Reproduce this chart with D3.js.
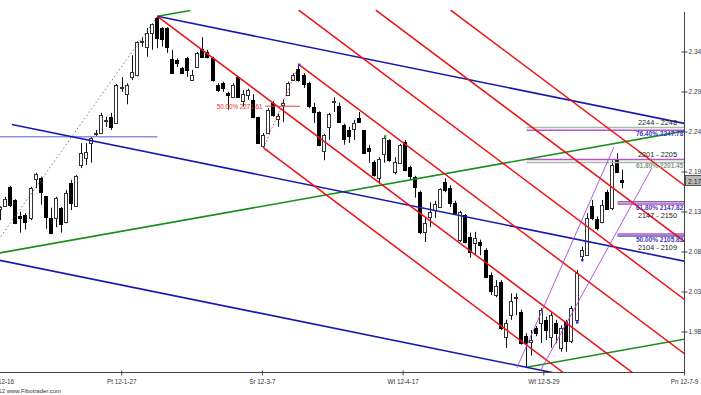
<!DOCTYPE html>
<html>
<head>
<meta charset="utf-8">
<script src="https://cdn.jsdelivr.net/npm/d3@7"></script>
<style>
  body { margin: 0; background: #fff; }
  svg { display: block; font-family: "Liberation Sans", Arial, sans-serif; }
</style>
</head>
<body>
<script>
// daily candles (bar 0 = left edge, bar 123 = last session)
const open = [2.140,2.143,2.168,2.151,2.130,2.132,2.127,2.178,2.179,2.156,
  2.128,2.128,2.141,2.123,2.173,2.143,2.195,2.205,2.224,2.236,
  2.237,2.253,2.258,2.250,2.295,2.287,2.310,2.312,2.354,2.348,
  2.366,2.385,2.372,2.372,2.332,2.331,2.321,2.333,2.305,2.322,
  2.345,2.341,2.333,2.299,2.301,2.288,2.283,2.309,2.278,2.286,
  2.280,2.258,2.221,2.238,2.276,2.255,2.273,2.286,2.305,2.319,
  2.312,2.301,2.271,2.264,2.215,2.245,2.277,2.272,2.247,2.241,
  2.242,2.256,2.241,2.218,2.200,2.179,2.211,2.228,2.187,2.199,
  2.226,2.193,2.181,2.161,2.109,2.129,2.138,2.142,2.174,2.166,
  2.147,2.100,2.132,2.103,2.096,2.097,2.087,2.055,2.029,2.046,
  1.975,2.003,2.025,2.007,1.976,1.969,1.987,1.993,1.997,1.975,
  1.993,1.961,1.994,1.969,1.997,2.079,2.080,2.143,2.127,2.123,
  2.161,2.141,2.202,2.177];
const high = [2.143,2.155,2.169,2.152,2.136,2.134,2.168,2.186,2.181,2.156,
  2.141,2.155,2.142,2.164,2.177,2.183,2.224,2.224,2.232,2.241,
  2.263,2.258,2.263,2.300,2.309,2.301,2.337,2.355,2.360,2.372,
  2.378,2.387,2.373,2.373,2.344,2.333,2.322,2.335,2.318,2.341,
  2.360,2.344,2.335,2.301,2.303,2.290,2.301,2.310,2.292,2.294,
  2.287,2.258,2.237,2.269,2.278,2.262,2.280,2.303,2.314,2.325,
  2.314,2.303,2.276,2.265,2.236,2.263,2.283,2.276,2.249,2.245,
  2.254,2.264,2.241,2.222,2.202,2.206,2.233,2.229,2.206,2.223,
  2.228,2.195,2.182,2.163,2.128,2.148,2.150,2.166,2.179,2.170,
  2.150,2.137,2.133,2.109,2.110,2.100,2.089,2.058,2.048,2.048,
  1.997,2.031,2.031,2.010,1.980,1.984,1.989,2.012,2.001,2.006,
  1.997,1.990,1.997,2.015,2.061,2.091,2.134,2.151,2.130,2.151,
  2.164,2.202,2.211,2.190];
const low = [2.125,2.142,2.142,2.120,2.109,2.113,2.125,2.166,2.145,2.114,
  2.107,2.116,2.109,2.121,2.138,2.142,2.192,2.196,2.199,2.232,
  2.236,2.245,2.241,2.249,2.290,2.274,2.305,2.310,2.348,2.335,
  2.344,2.346,2.348,2.340,2.313,2.322,2.313,2.309,2.304,2.322,
  2.335,2.333,2.303,2.290,2.290,2.267,2.283,2.282,2.271,2.280,
  2.256,2.223,2.218,2.237,2.258,2.245,2.251,2.286,2.304,2.303,
  2.295,2.269,2.250,2.220,2.202,2.228,2.264,2.251,2.222,2.224,
  2.228,2.250,2.210,2.199,2.181,2.173,2.199,2.200,2.184,2.197,
  2.188,2.177,2.154,2.107,2.097,2.116,2.128,2.142,2.161,2.142,
  2.132,2.097,2.095,2.077,2.080,2.080,2.051,2.029,2.026,1.984,
  1.961,1.997,2.003,1.965,1.936,1.951,1.976,1.967,1.971,1.961,
  1.967,1.956,1.956,1.967,1.994,2.074,2.079,2.125,2.112,2.121,
  2.138,2.138,2.186,2.166];
const close = [2.142,2.152,2.145,2.121,2.128,2.123,2.166,2.184,2.161,2.129,
  2.109,2.154,2.121,2.160,2.147,2.182,2.211,2.213,2.231,2.237,
  2.260,2.254,2.245,2.299,2.296,2.299,2.316,2.354,2.355,2.366,
  2.377,2.359,2.358,2.348,2.314,2.327,2.314,2.318,2.312,2.340,
  2.335,2.335,2.305,2.292,2.294,2.285,2.299,2.283,2.287,2.292,
  2.258,2.224,2.235,2.267,2.260,2.259,2.276,2.301,2.312,2.305,
  2.301,2.271,2.264,2.222,2.235,2.262,2.278,2.251,2.229,2.233,
  2.250,2.251,2.211,2.214,2.183,2.204,2.231,2.202,2.200,2.222,
  2.190,2.181,2.168,2.110,2.121,2.136,2.146,2.165,2.164,2.147,
  2.134,2.136,2.097,2.084,2.102,2.093,2.052,2.035,2.041,1.987,
  1.993,2.021,2.026,1.967,1.967,1.971,1.981,2.010,1.984,2.003,
  1.980,1.987,1.969,2.012,2.057,2.087,2.128,2.128,2.116,2.145,
  2.139,2.196,2.187,2.175];

// axes
const priceTicks = [1.982, 2.0334, 2.0848, 2.1362, 2.1876, 2.239, 2.2904, 2.3418];
const priceTickLabels = ["1.98", "2.03", "2.08", "2.13", "2.19", "2.24", "2.29", "2.34"];
const dateTicks = [-4.0, 23.84, 51.67, 79.5, 107.34, 135.17];
const dateLabels = ["Pt 11-12-16", "Pt 12-1-27", "Śr 12-3-7", "Wt 12-4-17", "Wt 12-5-29", "Pn 12-7-9"];

// red parallel channel lines: anchor bar, anchor price
const redBars = [31, 59, 52, 58.95, 74.2, 89.0];
const redPrices = [2.387, 2.325, 2.218, 2.395, 2.395, 2.395];
const redSlope = -0.004872;

// blue fan lines
const blueBars = [31, 2.2, -1];
const bluePrices = [2.387, 2.248, 2.0746];
const blueSlope = -0.00132;

// green lines
const greenBars = [31, -1, 104];
const greenEnds = [37.5, 140, 140];
const greenPrices = [2.387, 2.082, 1.936];
const greenSlope = 0.001156;

// purple up channel [bar0, price0, bar1, price1]
const purpleLines = [[102.1, 1.935, 121.3, 2.219], [106.7, 1.931, 128.8, 2.192]];

// fibonacci cluster lines on the right
const fibLevels = [2.2442, 2.2406, 2.2030, 2.1992, 2.1488, 2.1459, 2.1073, 2.1047];
const fibStarts = [104, 104, 104, 104, 122, 122, 122, 122];
const fibColors = ["#a3bfa3", "#b456c8", "#b456c8", "#a3bfa3", "#7a6aa8", "#c24ac4", "#c24ac4", "#5a5ab8"];
const zoneTexts = ["2244 - 2248", "2201 - 2205", "2147 - 2150", "2104 - 2109"];
const fibTexts = ["76.40% 2247.78", "61.80% 2201.45", "61.80% 2147.82", "50.00% 2105.83"];
const fibTextColors = ["#3a3ad0", "#7f9a7f", "#4a3ac0", "#4a3ac0"];

// other marks
const retraceText = "50.00% 2271.61";
const dottedStart = [0, 2.104];
const lavenderLevel = 2.2323;
const dotBars = [59, 76, 114, 115];
const dotColors = ["#3030ff", "#20a020", "#3030ff", "#3030ff"];

const W = 701, H = 395;
const plot = {left: 0, right: 684, top: 8, bottom: 372};

const svg = d3.select("body").append("svg").attr("width", W).attr("height", H);
svg.append("rect").attr("width", W).attr("height", H).attr("fill", "#fff");

svg.append("defs").append("clipPath").attr("id", "plotClip")
  .append("rect")
  .attr("x", plot.left).attr("y", plot.top)
  .attr("width", plot.right - plot.left).attr("height", plot.bottom - plot.top);

const x = d3.scaleLinear().domain([0, 123]).range([0.7, 622.5]);
const y = d3.scaleLinear().domain([priceTicks[0], priceTicks[7]]).range([331.5, 51.5]);
const line = d3.line().x(d => x(d[0])).y(d => y(d[1]));
function seg(i0, p0, slope, i1) { return [[i0, p0], [i1, p0 + slope * (i1 - i0)]]; }

const bars = d3.range(open.length).map(i => ({i: i, o: open[i], h: high[i], l: low[i], c: close[i]}));
const g = svg.append("g").attr("clip-path", "url(#plotClip)");

// candles
const col = d => Math.floor(x(d.i));
const candle = g.selectAll(".candle").data(bars).enter().append("g").attr("class", "candle");
candle.append("line")
  .attr("x1", d => col(d) + 0.5).attr("x2", d => col(d) + 0.5)
  .attr("y1", d => y(d.h)).attr("y2", d => y(d.l))
  .attr("stroke", "#111").attr("stroke-width", 1);
candle.append("rect")
  .attr("x", d => col(d) - 1.5)
  .attr("y", d => Math.round(y(Math.max(d.o, d.c))) + 0.5)
  .attr("width", 3)
  .attr("height", d => Math.max(1, Math.round(Math.abs(y(d.o) - y(d.c)))))
  .attr("fill", d => d.c >= d.o ? "#fff" : "#000")
  .attr("stroke", d => d.c >= d.o ? "#333" : "#000")
  .attr("stroke-width", 1);

// lavender horizontal level
g.append("path").attr("d", line([[-2, lavenderLevel], [31, lavenderLevel]]))
  .attr("stroke", "#8f8fe0").attr("stroke-width", 1.6).attr("fill", "none");

// dotted swing line into the top
g.append("path").attr("d", line([dottedStart, [31, high[31]]]))
  .attr("stroke", "#555").attr("stroke-width", 0.8).attr("stroke-dasharray", "1.5,2.5").attr("fill", "none");

// fib cluster lines
fibLevels.forEach((lv, k) => {
  g.append("path").attr("d", line([[fibStarts[k], lv], [140, lv]]))
    .attr("stroke", fibColors[k]).attr("stroke-width", 1.6).attr("fill", "none");
});

// green lines
greenBars.forEach((b, k) => {
  g.append("path").attr("d", line(seg(b, greenPrices[k], greenSlope, greenEnds[k])))
    .attr("stroke", "#17901d").attr("stroke-width", 1.6).attr("fill", "none");
});

// blue lines
blueBars.forEach((b, k) => {
  g.append("path").attr("d", line(seg(b, bluePrices[k], blueSlope, 140)))
    .attr("stroke", "#1818b0").attr("stroke-width", 1.6).attr("fill", "none");
});

// red channel
redBars.forEach((b, k) => {
  g.append("path").attr("d", line(seg(b, redPrices[k], redSlope, 140)))
    .attr("stroke", "#ee1010").attr("stroke-width", 1.5).attr("fill", "none");
});

// purple channel
purpleLines.forEach(p => {
  g.append("path").attr("d", line([[p[0], p[1]], [p[2], p[3]]]))
    .attr("stroke", "#a84ad8").attr("stroke-width", 0.9).attr("fill", "none");
});

// 50% retracement of the Mar swing
const mid = (low[52] + high[59]) / 2;
g.append("path").attr("d", line([[52, low[52]], [59, high[59]]]))
  .attr("stroke", "#e03030").attr("stroke-width", 0.8).attr("stroke-dasharray", "1.5,2").attr("fill", "none");
g.append("path").attr("d", line([[52.3, mid], [59.2, mid]]))
  .attr("stroke", "#e84040").attr("stroke-width", 1).attr("fill", "none");
svg.append("text")
  .attr("x", x(52) - 1).attr("y", y(mid) + 3)
  .attr("text-anchor", "end").attr("font-size", 6.3).attr("fill", "#e03030")
  .text(retraceText);

// pivot dots
dotBars.forEach((b, k) => {
  const p = k < 2 ? high[b] : low[b];
  g.append("rect").attr("x", x(b) - 1).attr("y", y(p) - 1).attr("width", 2.5).attr("height", 2.5)
    .attr("fill", dotColors[k]);
});

// fib cluster labels
zoneTexts.forEach((t, k) => {
  const top = y(fibLevels[2 * k]), bot = y(fibLevels[2 * k + 1]);
  const fibY = bot + 6;
  const zoneY = k < 2 ? top - 2.5 : fibY + 8;
  svg.append("text").attr("x", 638).attr("y", zoneY)
    .attr("font-size", 7.3).attr("fill", "#222").text(t);
  svg.append("text").attr("x", 636).attr("y", fibY)
    .attr("font-size", 6.5).attr("font-weight", "bold").attr("fill", fibTextColors[k]).text(fibTexts[k]);
});

// y axis
svg.append("line").attr("x1", plot.right + 0.5).attr("x2", plot.right + 0.5)
  .attr("y1", 12).attr("y2", plot.bottom).attr("stroke", "#444");
const yAxis = svg.append("g").attr("transform", "translate(" + (plot.right + 0.5) + ",0)")
  .call(d3.axisRight(y).tickValues(priceTicks).tickFormat((d, i) => priceTickLabels[i]).tickSize(3).tickPadding(1));
yAxis.select(".domain").remove();
yAxis.selectAll(".tick line").attr("x1", -3).attr("x2", 3).attr("stroke", "#444");
yAxis.selectAll(".tick text").attr("font-size", 6.5).attr("fill", "#333")
  .attr("font-family", "Liberation Sans, Arial, sans-serif");

// current price marker
const last = close[close.length - 1];
svg.append("rect").attr("x", plot.right + 1.5).attr("y", Math.round(y(last)) - 5.5)
  .attr("width", 20).attr("height", 10).attr("fill", "#b8b8b8").attr("stroke", "#555");
svg.append("text").attr("x", plot.right + 4).attr("y", Math.round(y(last)) + 2.5)
  .attr("font-size", 6.8).attr("fill", "#222").text(last.toFixed(2));

// x axis
svg.append("line").attr("x1", 0).attr("x2", plot.right + 0.5)
  .attr("y1", plot.bottom + 0.5).attr("y2", plot.bottom + 0.5).attr("stroke", "#444");
const xAxis = svg.append("g").attr("transform", "translate(0," + (plot.bottom + 0.5) + ")")
  .call(d3.axisBottom(x).tickValues(dateTicks).tickFormat((d, i) => dateLabels[i]).tickSize(3).tickPadding(4));
xAxis.select(".domain").remove();
xAxis.selectAll(".tick line").attr("y1", -2).attr("y2", 3).attr("stroke", "#444");
xAxis.selectAll(".tick text").attr("font-size", 6.3).attr("fill", "#333")
  .attr("font-family", "Liberation Sans, Arial, sans-serif");
// the first date label is pushed inside the left edge, as the software does
xAxis.selectAll(".tick").filter(d => x(d) < 0)
  .attr("transform", "translate(14,0)")
  .select("text").attr("text-anchor", "end");
xAxis.selectAll(".tick").filter(d => x(d) < 0).select("line").remove();

// copyright
svg.append("text").attr("x", 61).attr("y", 393)
  .attr("text-anchor", "end").attr("font-size", 6).attr("fill", "#333")
  .text("© 2012 www.Fibotrader.com");
</script>
</body>
</html>
